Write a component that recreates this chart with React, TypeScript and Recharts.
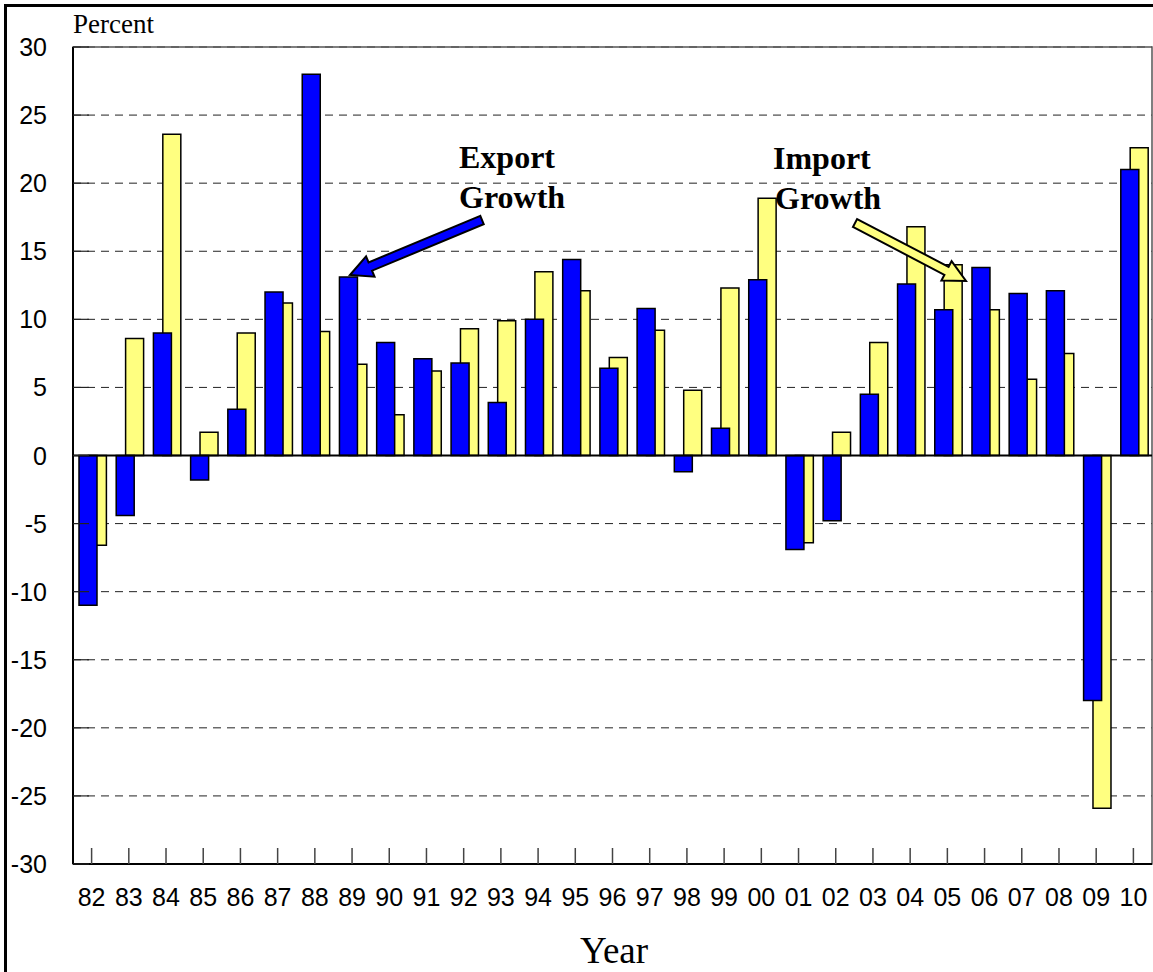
import React from 'react';
import { BarChart, Bar, XAxis, YAxis, CartesianGrid, ReferenceLine, ReferenceArea, Rectangle } from 'recharts';

const years = ['82', '83', '84', '85', '86', '87', '88', '89', '90', '91', '92', '93', '94', '95', '96', '97', '98', '99', '00', '01', '02', '03', '04', '05', '06', '07', '08', '09', '10'];
const exportGrowth = [-11.0, -4.4, 9.0, -1.8, 3.4, 12.0, 28.0, 13.1, 8.3, 7.1, 6.8, 3.9, 10.0, 14.4, 6.4, 10.8, -1.2, 2.0, 12.9, -6.9, -4.8, 4.5, 12.6, 10.7, 13.8, 11.9, 12.1, -18.0, 21.0];
const importGrowth = [-6.6, 8.6, 23.6, 1.7, 9.0, 11.2, 9.1, 6.7, 3.0, 6.2, 9.3, 9.9, 13.5, 12.1, 7.2, 9.2, 4.8, 12.3, 18.9, -6.4, 1.7, 8.3, 16.8, 14.0, 10.7, 5.6, 7.5, -25.9, 22.6];
const yTicks = [-30, -25, -20, -15, -10, -5, 0, 5, 10, 15, 20, 25, 30];

const data = years.map((year, i) => ({ year, exports: exportGrowth[i], imports: importGrowth[i] }));

const SANS = 'Liberation Sans, Arial, sans-serif';
const SERIF = 'Liberation Serif, Times New Roman, serif';

// excel style overlap: blue on the left and in front, yellow behind to the right
const shifted = (dx: number) => (props: any) => <Rectangle {...props} x={props.x + dx} />;

const XTick = ({ x, y, payload }: any) => (
  <g>
    <line x1={x} y1={y} x2={x} y2={y - 16} stroke="#444" strokeWidth={1.5} />
    <text x={x} y={y + 42} textAnchor="middle" fontFamily={SANS} fontSize={25} fill="#000">
      {payload.value}
    </text>
  </g>
);

const YTick = ({ x, y, payload }: any) => (
  <g>
    <line x1={x + 26} y1={y} x2={x + 42} y2={y} stroke="#222" strokeWidth={1.2} />
    <text x={x} y={y + 9} textAnchor="end" fontFamily={SANS} fontSize={25} fill="#000">
      {payload.value}
    </text>
  </g>
);

function arrowPoints(x1: number, y1: number, x2: number, y2: number, shaft: number, headW: number, headL: number) {
  const len = Math.hypot(x2 - x1, y2 - y1);
  const ux = (x2 - x1) / len;
  const uy = (y2 - y1) / len;
  const nx = -uy;
  const ny = ux;
  const bx = x2 - ux * headL;
  const by = y2 - uy * headL;
  const pts = [
    [x1 + nx * shaft, y1 + ny * shaft],
    [bx + nx * shaft, by + ny * shaft],
    [bx + nx * headW, by + ny * headW],
    [x2, y2],
    [bx - nx * headW, by - ny * headW],
    [bx - nx * shaft, by - ny * shaft],
    [x1 - nx * shaft, y1 - ny * shaft],
  ];
  return pts.map((p) => p.join(',')).join(' ');
}

const App: React.FC = () => {
  return (
    <div style={{ position: 'absolute', left: 0, top: 0, width: 1153, height: 972, background: '#fff', overflow: 'hidden' }}>
      <BarChart width={1153} height={972} data={data} margin={{ top: 47, right: 1, bottom: 58, left: 0 }} barGap={0}>
        <CartesianGrid vertical={false} stroke="#222" strokeDasharray="8 6" />
        <ReferenceArea y1={-30} y2={30} fill="none" stroke="#555" strokeWidth={1.5} ifOverflow="visible" />
        <XAxis
          dataKey="year"
          height={50}
          interval={0}
          tickSize={0}
          tickMargin={0}
          tick={<XTick />}
          axisLine={{ stroke: '#000', strokeWidth: 2 }}
        />
        <YAxis
          domain={[-30, 30]}
          ticks={yTicks}
          width={73}
          tickSize={0}
          tickMargin={26}
          tick={<YTick />}
          axisLine={{ stroke: '#000', strokeWidth: 2 }}
        />
        <Bar dataKey="imports" fill="#FFFF80" stroke="#000" strokeWidth={1.5} barSize={18} shape={shifted(14.4)} isAnimationActive={false} />
        <Bar dataKey="exports" fill="#0000FF" stroke="#000" strokeWidth={1.5} barSize={18} shape={shifted(-13)} isAnimationActive={false} />
        <ReferenceLine y={0} stroke="#000" strokeWidth={2} />
      </BarChart>

      <svg width={1153} height={972} style={{ position: 'absolute', left: 0, top: 0, pointerEvents: 'none' }}>
        <rect x={5.5} y={5.5} width={1200} height={1000} fill="none" stroke="#000" strokeWidth={3} />
        <text x={73} y={33} fontFamily={SERIF} fontSize={27}>Percent</text>
        <text x={614} y={963} textAnchor="middle" fontFamily={SERIF} fontSize={37}>Year</text>

        <text fontFamily={SERIF} fontSize={32} fontWeight="bold">
          <tspan x={459} y={168}>Export</tspan>
          <tspan x={459} y={208}>Growth</tspan>
        </text>
        <text fontFamily={SERIF} fontSize={32} fontWeight="bold">
          <tspan x={773} y={169}>Import</tspan>
          <tspan x={775} y={209}>Growth</tspan>
        </text>

        <polygon points={arrowPoints(482, 220, 350, 275, 4.5, 11, 22)} fill="#0000FF" stroke="#000" strokeWidth={2} strokeLinejoin="miter" />
        <polygon points={arrowPoints(855, 223, 966, 281, 4.5, 11, 22)} fill="#FFFF80" stroke="#000" strokeWidth={2} strokeLinejoin="miter" />
      </svg>
    </div>
  );
};

export default App;
